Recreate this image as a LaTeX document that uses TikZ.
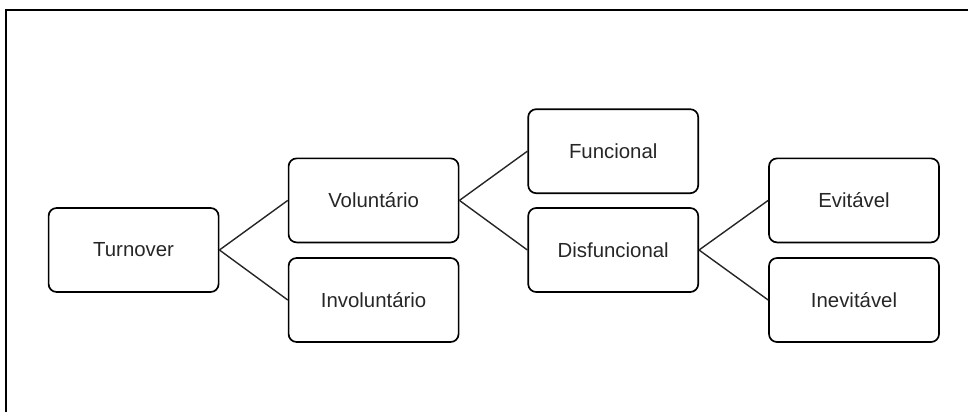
\documentclass[tikz,border=0pt]{standalone}
\usepackage{fontspec}
\setmainfont{Liberation Sans}
\usetikzlibrary{positioning}

\begin{document}
\begin{tikzpicture}[every node/.style={minimum width=4.25cm, minimum height=2.1cm},
    box/.style={draw, rounded corners=0.2cm, line width=1.2pt, text=black!85, font=\fontsize{14.5}{17}\selectfont},
    link/.style={line width=1pt, black!85}]
        \useasboundingbox (0,0) rectangle (24.2,-10.3);
        \draw[line width=1.4pt] (0.16,-10.3) -- (0.16,-0.25) -- (24.2,-0.25);

        \node[box] (turn) at (3.34,-6.25) {Turnover};

        \node[box] (vol) at (9.34,-5.01) {Voluntário};
        \node[box] (invol) at (9.34,-7.5) {Involuntário};

        \node[box] (func) at (15.33,-3.78) {Funcional};
        \node[box] (disf) at (15.33,-6.25) {Disfuncional};

        \node[box] (evit) at (21.35,-5.01) {Evitável};
        \node[box] (inev) at (21.35,-7.5) {Inevitável};

        \draw[link] (turn.east) -- (vol.west);
        \draw[link] (turn.east) -- (invol.west);
        \draw[link] (vol.east) -- (func.west);
        \draw[link] (vol.east) -- (disf.west);
        \draw[link] (disf.east) -- (evit.west);
        \draw[link] (disf.east) -- (inev.west);
    \end{tikzpicture}
\end{document}
